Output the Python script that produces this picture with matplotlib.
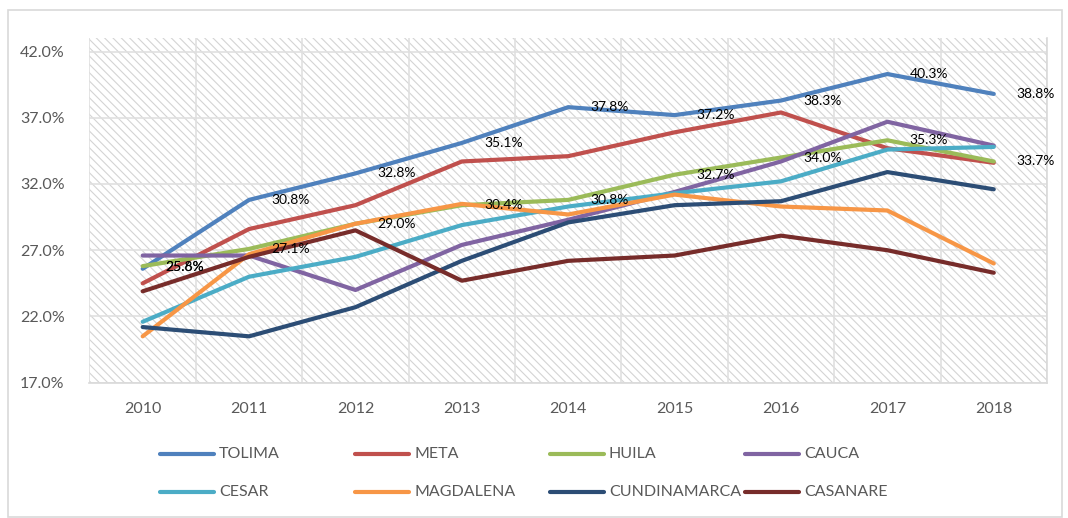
import numpy as np
import matplotlib.pyplot as plt
from matplotlib.patches import Rectangle
from matplotlib.lines import Line2D

plt.rcParams['font.family'] = ['Lato', 'DejaVu Sans']
plt.rcParams['hatch.linewidth'] = 0.8

years = ["2010", "2011", "2012", "2013", "2014", "2015", "2016", "2017", "2018"]

tolima = [25.6, 30.8, 32.8, 35.1, 37.8, 37.2, 38.3, 40.3, 38.8]
meta = [24.5, 28.6, 30.4, 33.7, 34.1, 35.9, 37.4, 34.7, 33.6]
huila = [25.8, 27.1, 29.0, 30.4, 30.8, 32.7, 34.0, 35.3, 33.7]
cauca = [26.6, 26.6, 24.0, 27.4, 29.3, 31.4, 33.7, 36.7, 34.9]
cesar = [21.6, 25.0, 26.5, 28.9, 30.3, 31.3, 32.2, 34.6, 34.8]
magdalena = [20.5, 26.7, 29.0, 30.5, 29.7, 31.2, 30.3, 30.0, 26.0]
cundinamarca = [21.2, 20.5, 22.7, 26.2, 29.1, 30.4, 30.7, 32.9, 31.6]
casanare = [23.9, 26.5, 28.5, 24.7, 26.2, 26.6, 28.1, 27.0, 25.3]

names = ["TOLIMA", "META", "HUILA", "CAUCA", "CESAR", "MAGDALENA", "CUNDINAMARCA", "CASANARE"]
series = [tolima, meta, huila, cauca, cesar, magdalena, cundinamarca, casanare]
colors = ["#4F81BD", "#C0504D", "#9BBB59", "#8064A2", "#4BACC6", "#F79646", "#2C4D75", "#772C2A"]
labelled = ["TOLIMA", "HUILA"]

fig = plt.figure(figsize=(10.68, 5.18), dpi=100)
ax = fig.add_axes([0.0838, 0.2612, 0.8965, 0.6649])

# hatched plot area
ax.add_patch(Rectangle((0, 0), 1, 1, transform=ax.transAxes, facecolor="white",
                       edgecolor="#D4D4D4", hatch="\\" * 4, lw=0, zorder=0))

x = np.arange(len(years))
for name, vals, c in zip(names, series, colors):
    ax.plot(x, vals, color=c, lw=3, solid_capstyle="round", solid_joinstyle="round", zorder=3)
    if name in labelled:
        for xi, v in zip(x, vals):
            # in the original the two 2010 labels sit on top of each other
            ypos = (tolima[0] + huila[0]) / 2 if xi == 0 else v
            ax.annotate(f"{v:.1f}%", (xi, ypos), xytext=(16, 0), textcoords="offset points",
                        ha="left", va="center", fontsize=10, color="black", zorder=5)

ax.set_xlim(-0.5, len(years) - 0.5)
ax.set_ylim(17, 43)
ax.set_yticks(np.arange(17, 43, 5))
ax.set_yticklabels([f"{v:.1f}%" for v in np.arange(17, 43, 5)])
ax.set_xticks(x)
ax.set_xticklabels(years)
ax.set_xticks(np.arange(-0.5, len(years), 0.5), minor=True)
ax.grid(True, which="minor", axis="x", color="#E0E0E0", lw=1.2, zorder=1)
ax.grid(True, which="major", axis="y", color="#E0E0E0", lw=1.2, zorder=1)
ax.set_axisbelow(True)
ax.tick_params(axis="both", which="both", length=0, labelsize=11.5, labelcolor="#595959")
ax.tick_params(axis="y", pad=18)
ax.tick_params(axis="x", pad=14)
for s in ["top", "left"]:
    ax.spines[s].set_visible(False)
for s in ["bottom", "right"]:
    ax.spines[s].set_color("#D9D9D9")
    ax.spines[s].set_linewidth(1.2)

# legend, 4 columns x 2 rows
W, H = 1068, 518
for i, (name, c) in enumerate(zip(names, colors)):
    col, row = i % 4, i // 4
    x0 = 160 + col * 195
    y0 = 454 + row * 38
    fig.add_artist(Line2D([x0 / W, (x0 + 54) / W], [1 - y0 / H, 1 - y0 / H],
                          color=c, lw=3, solid_capstyle="round"))
    fig.text((x0 + 59) / W, 1 - y0 / H, name, ha="left", va="center",
             fontsize=11.5, color="#595959")

# chart frame
fig.add_artist(Rectangle((8 / W, 0.002), (1062 - 8) / W, (518 - 10) / H - 0.002,
                         transform=fig.transFigure, fill=False, edgecolor="#D9D9D9", lw=1.2))

fig.savefig("out.png", dpi=100)
